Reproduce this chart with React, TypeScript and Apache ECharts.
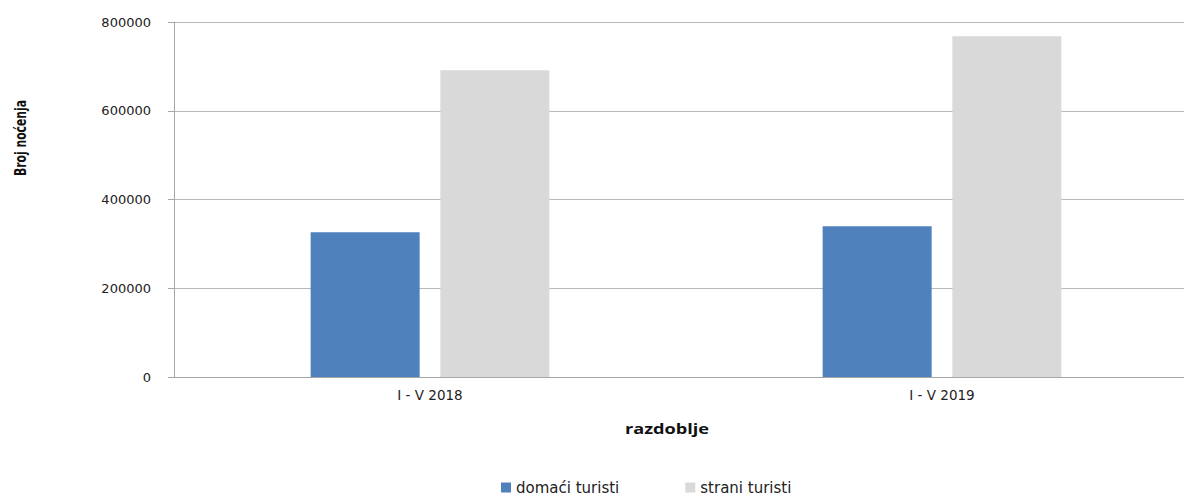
import React, { useEffect, useRef } from "react";
import * as echarts from "echarts";

const categories = ["I - V 2018", "I - V 2019"];
const domaci = [326000, 340000];
const strani = [691000, 768000];
const seriesNames = ["domaći turisti", "strani turisti"];
const yTitle = "Broj noćenja";
const xTitle = "razdoblje";

export default function App() {
  const ref = useRef<HTMLDivElement>(null);
  useEffect(() => {
    if (!ref.current) return;
    const chart = echarts.init(ref.current, null, { renderer: "svg" });
    const font = "'DejaVu Sans', Verdana, sans-serif";
    chart.setOption({
      animation: false,
      backgroundColor: "#ffffff",
      grid: { left: 174, top: 22, right: 0, bottom: 118, containLabel: false },
      legend: {
        left: 496,
        top: 475,
        itemWidth: 10,
        itemHeight: 10,
        itemGap: 66,
        icon: "rect",
        textStyle: { fontFamily: font, fontSize: 15, color: "#222" },
        data: seriesNames,
      },
      xAxis: {
        type: "category",
        data: categories,
        axisLine: { show: true, lineStyle: { color: "#a6a6a6", width: 1 } },
        axisTick: { show: false },
        axisLabel: { fontFamily: font, fontSize: 13.5, color: "#222", margin: 11 },
      },
      yAxis: {
        type: "value",
        min: 0,
        max: 800000,
        interval: 200000,
        axisLine: { show: true, lineStyle: { color: "#a6a6a6", width: 1 } },
        axisTick: { show: true, length: 6, lineStyle: { color: "#a6a6a6" } },
        splitLine: { show: true, lineStyle: { color: "#b8b8b8", width: 1 } },
        axisLabel: {
          fontFamily: font,
          fontSize: 13,
          color: "#222",
          margin: 23,
          formatter: (v: number) => String(v),
        },
      },
      graphic: [
        {
          type: "text",
          x: 667,
          y: 429,
          scaleX: 1.3,
          style: {
            text: xTitle,
            fontFamily: "'Open Sans', 'DejaVu Sans', sans-serif",
            fontWeight: "bold",
            fontSize: 14,
            fill: "#111",
            align: "center",
            verticalAlign: "middle",
          },
        },
        {
          type: "text",
          x: 20,
          y: 138,
          rotation: Math.PI / 2,
          scaleX: 0.8,
          style: {
            text: yTitle,
            fontFamily: "'DejaVu Sans Condensed', 'DejaVu Sans', sans-serif",
            fontWeight: "bold",
            fontSize: 15,
            fill: "#111",
            align: "center",
            verticalAlign: "middle",
          },
        },
      ],
      series: [
        {
          name: seriesNames[0],
          type: "bar",
          data: domaci,
          barWidth: 109,
          barGap: "19%",
          itemStyle: { color: "#4f81bd" },
        },
        {
          name: seriesNames[1],
          type: "bar",
          data: strani,
          barWidth: 109,
          barGap: "19%",
          itemStyle: { color: "#d9d9d9" },
        },
      ],
    });
    return () => chart.dispose();
  }, []);
  return (
    <div
      ref={ref}
      style={{ position: "fixed", left: 0, top: 0, width: 1198, height: 495 }}
    />
  );
}
